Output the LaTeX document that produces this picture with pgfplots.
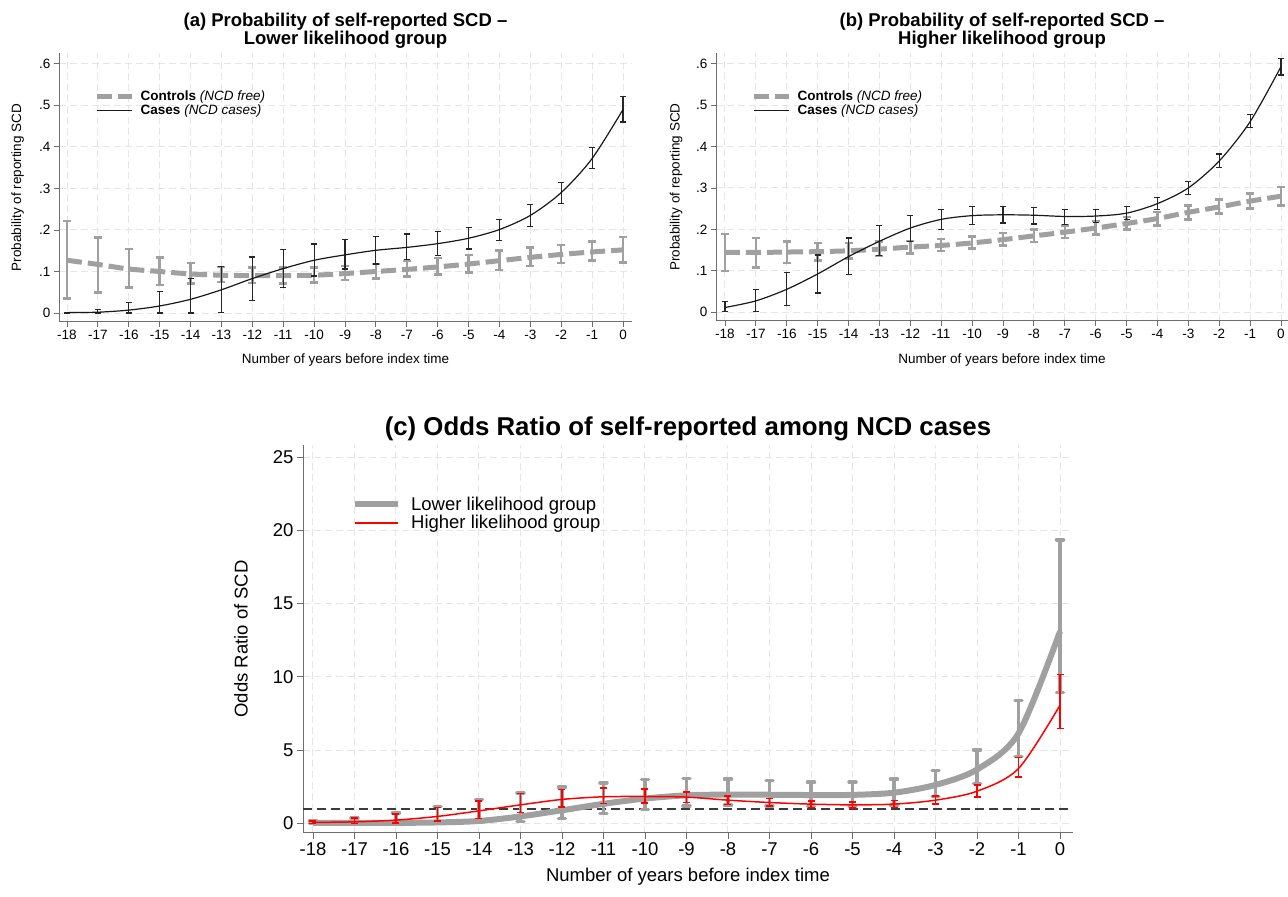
\documentclass[border=0pt]{standalone}
\usepackage{fontspec}
\setmainfont{Liberation Sans}
\usepackage{pgfplots}
\pgfplotsset{compat=1.18}
\usepackage{pgfplotstable}

\definecolor{ctrlgray}{RGB}{160,160,160}
\definecolor{axgray}{RGB}{110,110,110}
\definecolor{gridgray}{RGB}{230,230,230}
\definecolor{refgray}{RGB}{60,60,60}

% panel (a): lower likelihood group
\pgfplotstableread{
x y lo hi
-18 0.127 0.035 0.221
-17 0.117 0.049 0.182
-16 0.106 0.061 0.154
-15 0.100 0.067 0.134
-14 0.094 0.071 0.121
-13 0.091 0.075 0.111
-12 0.090 0.072 0.109
-11 0.090 0.071 0.110
-10 0.091 0.073 0.110
-9 0.095 0.079 0.113
-8 0.100 0.083 0.118
-7 0.105 0.088 0.125
-6 0.111 0.093 0.132
-5 0.118 0.098 0.140
-4 0.126 0.104 0.150
-3 0.134 0.113 0.158
-2 0.141 0.120 0.164
-1 0.147 0.126 0.172
0 0.152 0.122 0.183
}\ctrlA
\pgfplotstableread{
x y lo hi
-18 0.001 0.000 0.002
-17 0.002 0.000 0.008
-16 0.007 0.000 0.025
-15 0.017 0.000 0.051
-14 0.033 0.000 0.083
-13 0.056 0.002 0.112
-12 0.083 0.031 0.135
-11 0.107 0.061 0.153
-10 0.127 0.089 0.166
-9 0.140 0.106 0.177
-8 0.151 0.118 0.184
-7 0.158 0.129 0.190
-6 0.167 0.138 0.196
-5 0.180 0.154 0.206
-4 0.201 0.175 0.225
-3 0.235 0.208 0.261
-2 0.290 0.263 0.315
-1 0.372 0.347 0.398
0 0.490 0.460 0.521
}\caseA
% panel (b): higher likelihood group
\pgfplotstableread{
x y lo hi
-18 0.144 0.099 0.189
-17 0.144 0.108 0.179
-16 0.145 0.118 0.171
-15 0.146 0.125 0.167
-14 0.148 0.130 0.167
-13 0.152 0.135 0.171
-12 0.157 0.142 0.172
-11 0.161 0.147 0.177
-10 0.167 0.153 0.183
-9 0.175 0.161 0.191
-8 0.184 0.169 0.199
-7 0.193 0.179 0.209
-6 0.203 0.188 0.220
-5 0.214 0.199 0.230
-4 0.226 0.209 0.242
-3 0.241 0.224 0.258
-2 0.254 0.238 0.272
-1 0.268 0.250 0.286
0 0.280 0.258 0.302
}\ctrlB
\pgfplotstableread{
x y lo hi
-18 0.011 0.002 0.025
-17 0.027 0.002 0.054
-16 0.055 0.015 0.095
-15 0.092 0.046 0.138
-14 0.134 0.090 0.179
-13 0.171 0.137 0.209
-12 0.203 0.171 0.234
-11 0.224 0.199 0.248
-10 0.233 0.211 0.256
-9 0.235 0.215 0.256
-8 0.234 0.213 0.252
-7 0.231 0.212 0.248
-6 0.232 0.216 0.247
-5 0.239 0.223 0.256
-4 0.262 0.247 0.277
-3 0.300 0.284 0.316
-2 0.365 0.349 0.382
-1 0.460 0.446 0.478
0 0.593 0.573 0.612
}\caseB
% panel (c): odds ratios
\pgfplotstableread{
x y lo hi
-18 0.04 0.00 0.18
-17 0.04 0.00 0.39
-16 0.04 0.00 0.73
-15 0.07 0.00 1.15
-14 0.17 0.05 1.62
-13 0.48 0.14 2.07
-12 0.90 0.33 2.48
-11 1.34 0.68 2.77
-10 1.70 0.97 3.00
-9 1.92 1.20 3.08
-8 1.97 1.25 3.02
-7 1.96 1.20 2.92
-6 1.94 1.15 2.82
-5 1.95 1.15 2.82
-4 2.10 1.25 3.02
-3 2.63 1.85 3.62
-2 3.68 2.72 5.02
-1 6.15 4.58 8.38
0 13.10 8.95 19.35
}\orLow
\pgfplotstableread{
x y lo hi
-18 0.07 0.00 0.15
-17 0.11 0.00 0.35
-16 0.23 0.05 0.64
-15 0.48 0.18 1.09
-14 0.86 0.34 1.55
-13 1.27 0.75 2.05
-12 1.64 1.14 2.32
-11 1.82 1.36 2.43
-10 1.84 1.41 2.36
-9 1.80 1.43 2.16
-8 1.59 1.30 1.89
-7 1.43 1.18 1.70
-6 1.32 1.09 1.55
-5 1.27 1.07 1.48
-4 1.32 1.09 1.57
-3 1.59 1.32 1.89
-2 2.20 1.82 2.61
-1 3.75 3.18 4.50
0 8.07 6.48 10.16
}\orHigh

\pgfplotsset{
  table/errtab/.style={x=x, y=y,
    y error plus expr=\thisrow{hi}-\thisrow{y},
    y error minus expr=\thisrow{y}-\thisrow{lo}},
  stata/.style={
    scale only axis,
    axis lines=left,
    axis line style={-, draw=axgray, line width=1pt},
    tick align=outside,
    tick style={draw=axgray, line width=0.8pt},
    major tick length=5pt,
    grid=major,
    grid style={draw=gridgray, line width=1pt, dash pattern=on 7pt off 4pt},
    xtick={-18,-17,-16,-15,-14,-13,-12,-11,-10,-9,-8,-7,-6,-5,-4,-3,-2,-1,0},
    xticklabels={-18,-17,-16,-15,-14,-13,-12,-11,-10,-9,-8,-7,-6,-5,-4,-3,-2,-1,0},
    clip=false,
    legend cell align=left,
  },
  probpanel/.style={
    stata,
    ymin=-0.0216, ymax=0.626,
    ytick={0,0.1,0.2,0.3,0.4,0.5,0.6},
    yticklabels={0,.1,.2,.3,.4,.5,.6},
    ticklabel style={font=\fontsize{13.5}{16}\selectfont},
    title style={font=\fontsize{18.5}{18.5}\selectfont\bfseries, align=center, inner sep=0pt, yshift=-2pt},
    ylabel={Probability of reporting SCD},
    xlabel={Number of years before index time},
    label style={font=\fontsize{13.5}{16}\selectfont},
    legend image code/.code={\draw[##1] (0pt,0pt) -- (35pt,0pt);},
    legend style={anchor=north west, draw=none, fill=none, inner sep=0pt,
      row sep=1pt, font=\fontsize{13.5}{15}\selectfont,
      nodes={inner sep=1pt},
      /tikz/every odd column/.append style={column sep=5pt}},
  },
  ctrlerr/.style={draw=none, mark=none, forget plot,
    error bars/.cd, y dir=both, y explicit,
    error bar style={line width=2.5pt, draw=ctrlgray},
    error mark options={rotate=90, mark size=4pt, line width=2.5pt, draw=ctrlgray}},
  ctrlline/.style={ctrlgray, line width=5pt, dash pattern=on 15pt off 6pt, smooth, tension=0.5, mark=none},
  caseerr/.style={draw=none, mark=none, forget plot,
    error bars/.cd, y dir=both, y explicit,
    error bar style={line width=1.2pt, draw=black!85},
    error mark options={rotate=90, mark size=3pt, line width=1.2pt, draw=black!85}},
  caseline/.style={black!90, line width=1.2pt, smooth, tension=0.5, mark=none},
}

\begin{document}
\begin{tikzpicture}
\useasboundingbox (0,0) rectangle (1288pt,897pt);

% ---- (a)
\begin{axis}[probpanel,
  at={(59pt,575pt)}, anchor=south west, width=573pt, height=269pt,
  xmin=-18.259, xmax=0.291,
  title={(a) Probability of self-reported SCD –\\Lower likelihood group},
  ylabel style={at={(axis description cs:-0.0724,0.5)}, anchor=center},
  xlabel style={at={(axis description cs:0.5,-0.1413)}, anchor=center},
  legend style={at={(axis description cs:0.062,0.865)}},
]
\addplot[ctrlerr] table[errtab] {\ctrlA};
\addplot[ctrlline] table[x=x,y=y] {\ctrlA};
\addlegendentry{\textbf{Controls} \textit{(NCD free)}}
\addplot[caseerr] table[errtab] {\caseA};
\addplot[caseline] table[x=x,y=y] {\caseA};
\addlegendentry{\textbf{Cases} \textit{(NCD cases)}}
\end{axis}

% ---- (b)
\begin{axis}[probpanel,
  at={(716pt,576pt)}, anchor=south west, width=572pt, height=268pt,
  xmin=-18.291, xmax=0.227,
  title={(b) Probability of self-reported SCD –\\Higher likelihood group},
  ylabel style={at={(axis description cs:-0.0699,0.5)}, anchor=center},
  xlabel style={at={(axis description cs:0.5,-0.1455)}, anchor=center},
  legend style={at={(axis description cs:0.062,0.865)}},
]
\addplot[ctrlerr] table[errtab] {\ctrlB};
\addplot[ctrlline] table[x=x,y=y] {\ctrlB};
\addlegendentry{\textbf{Controls} \textit{(NCD free)}}
\addplot[caseerr] table[errtab] {\caseB};
\addplot[caseline] table[x=x,y=y] {\caseB};
\addlegendentry{\textbf{Cases} \textit{(NCD cases)}}
\end{axis}

% ---- (c)
\begin{axis}[stata,
  at={(303pt,64pt)}, anchor=south west, width=770pt, height=388pt,
  xmin=-18.24, xmax=0.313, ymin=-0.65, ymax=25.82,
  major tick length=6pt,
  ytick={0,5,10,15,20,25}, yticklabels={0,5,10,15,20,25},
  ticklabel style={font=\fontsize{18.5}{21}\selectfont},
  title={(c) Odds Ratio of self-reported among NCD cases},
  title style={font=\fontsize{25.8}{28}\selectfont\bfseries, inner sep=0pt, yshift=-2pt},
  ylabel={Odds Ratio of SCD},
  xlabel={Number of years before index time},
  label style={font=\fontsize{18.5}{21}\selectfont},
  ylabel style={at={(axis description cs:-0.0805,0.5)}, anchor=center},
  xlabel style={at={(axis description cs:0.5,-0.1134)}, anchor=center},
  legend image code/.code={\draw[#1] (0pt,0pt) -- (43pt,0pt);},
  legend style={at={(axis description cs:0.0636,0.87)}, anchor=north west,
    draw=none, fill=none, inner sep=0pt, row sep=2pt,
    font=\fontsize{18.5}{20}\selectfont, nodes={inner sep=1pt},
    /tikz/every odd column/.append style={column sep=9pt}},
]
\addplot[refgray, line width=1.5pt, dash pattern=on 9pt off 5pt, forget plot]
  coordinates {(-18.24,1) (0.313,1)};
\addplot[draw=none, mark=none, forget plot,
  error bars/.cd, y dir=both, y explicit,
  error bar style={line width=3.5pt, draw=ctrlgray},
  error mark options={rotate=90, mark size=3.5pt, line width=3.5pt, line cap=round, draw=ctrlgray}]
  table[errtab] {\orLow};
\addplot[ctrlgray, line width=6pt, smooth, tension=0.5, mark=none] table[x=x,y=y] {\orLow};
\addlegendentry{Lower likelihood group}
\addplot[draw=none, mark=none, forget plot,
  error bars/.cd, y dir=both, y explicit,
  error bar style={line width=1.8pt, draw=red},
  error mark options={rotate=90, mark size=3.5pt, line width=1.8pt, draw=red}]
  table[errtab] {\orHigh};
\addplot[red, line width=1.5pt, smooth, tension=0.5, mark=none] table[x=x,y=y] {\orHigh};
\addlegendentry{Higher likelihood group}
\end{axis}
\end{tikzpicture}
\end{document}
